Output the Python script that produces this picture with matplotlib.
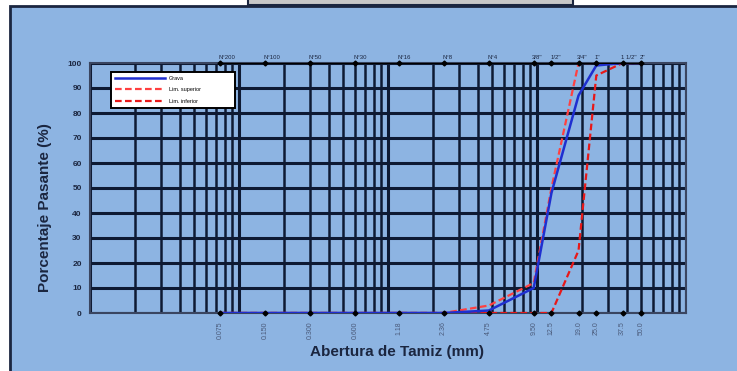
import matplotlib
matplotlib.use("Agg")
import matplotlib.pyplot as plt
from matplotlib.patches import Rectangle
from matplotlib.ticker import LogLocator, NullFormatter

# sieve openings (mm) and names
tamiz_mm = [0.075, 0.150, 0.300, 0.600, 1.18, 2.36, 4.75, 9.50, 12.5, 19.0, 25.0, 37.5, 50.0]
tamiz_lbl = ["0.075", "0.150", "0.300", "0.600", "1.18", "2.36", "4.75",
             "9.50", "12.5", "19.0", "25.0", "37.5", "50.0"]
tamiz_nom = ["N°200", "N°100", "N°50", "N°30", "N°16", "N°8", "N°4",
             '3/8"', '1/2"', '3/4"', '1"', '1 1/2"', '2"']

# % passing
grava = [0, 0, 0, 0, 0, 0, 1, 10, 48, 87, 99, 100, 100]
lim_sup = [0, 0, 0, 0, 0, 0, 3, 12, 50, 100, 100, 100, 100]
lim_inf = [0, 0, 0, 0, 0, 0, 0, 0, 0, 25, 95, 100, 100]

fondo = "#8DB4E2"
grid_c = "#0E1A33"

plt.rcParams['font.family'] = ['Liberation Sans', 'DejaVu Sans']

fig = plt.figure(figsize=(7.37, 3.71), dpi=100)
fig.patch.set_facecolor("white")

# chart area + cut off title box
fig.patches.append(Rectangle((10/737, -0.01), 1.0, (371-6)/371 + 0.01, transform=fig.transFigure,
                             facecolor=fondo, edgecolor="#1B2640", lw=2, zorder=0))
fig.patches.append(Rectangle((248/737, (371-5)/371), 325/737, 0.05, transform=fig.transFigure,
                             facecolor="#C8C8C8", edgecolor="#1B2640", lw=1.5, zorder=1))

ax = fig.add_axes([90/737, 58/371, 596/737, 250/371])
ax.set_zorder(3)
ax.set_facecolor(fondo)
ax.set_xscale("log")
ax.set_xlim(0.01, 100)
ax.set_ylim(0, 100)

ax.xaxis.set_major_locator(LogLocator(base=10))
ax.xaxis.set_minor_locator(LogLocator(base=10, subs=range(2, 10)))
ax.xaxis.set_major_formatter(NullFormatter())
ax.xaxis.set_minor_formatter(NullFormatter())
ax.tick_params(axis="x", which="both", length=0)
ax.set_yticks(range(0, 101, 10))
ax.tick_params(axis="y", length=0, labelsize=6, labelcolor="#1B2640", pad=6)
for lbl in ax.get_yticklabels():
    lbl.set_fontweight("bold")

ax.grid(True, which="major", axis="both", color=grid_c, lw=2.2)
ax.grid(True, which="minor", axis="x", color=grid_c, lw=1.8)
ax.set_axisbelow(True)
for s in ax.spines.values():
    s.set_color("#3A4560")
    s.set_linewidth(1.5)

ax.plot(tamiz_mm, grava, color="#1F2FD0", lw=1.8, label="Grava", zorder=5)
ax.plot(tamiz_mm, lim_sup, color="#FF4040", lw=1.6, ls=(0, (3, 1.5)), label="Lim. superior", zorder=4)
ax.plot(tamiz_mm, lim_inf, color="#E81818", lw=1.6, ls=(0, (3, 1.5)), label="Lim. inferior", zorder=4)

# sieve reference lines with markers
ax.plot(tamiz_mm, [100]*len(tamiz_mm), color="black", lw=0.8, marker="D", ms=2.5, zorder=6, clip_on=False)
ax.plot(tamiz_mm, [0]*len(tamiz_mm), color="black", lw=0.0, marker="D", ms=2.5, zorder=6, clip_on=False)

for x, nom, lbl in zip(tamiz_mm, tamiz_nom, tamiz_lbl):
    ax.annotate(nom, (x, 100), xytext=(-1, 2.5), textcoords="offset points",
                ha="left", va="bottom", fontsize=4.3, color="#1B2640")
    ax.annotate(lbl, (x, 0), xytext=(0, -6), textcoords="offset points",
                ha="center", va="top", rotation=90, fontsize=5, color="#4A5A7A")

leg = ax.legend(loc="upper left", bbox_to_anchor=(0.03, 0.824, 0.218, 0.152), mode="expand",
                fontsize=4, handlelength=9, handletextpad=0.8, frameon=True, fancybox=False,
                borderpad=0.7, labelspacing=1.2)
leg.get_frame().set_edgecolor("black")
leg.get_frame().set_linewidth(1.4)
leg.get_frame().set_alpha(1)

fig.text(45/737, 0.44, "Porcentaje Pasante (%)", rotation=90, ha="center", va="center",
         fontsize=11, fontweight="bold", color="#1B2640")
fig.text(397/737, 0.051, "Abertura de Tamiz (mm)", ha="center", va="center",
         fontsize=11, fontweight="bold", color="#1B2640")

fig.savefig("out.png", dpi=100)
